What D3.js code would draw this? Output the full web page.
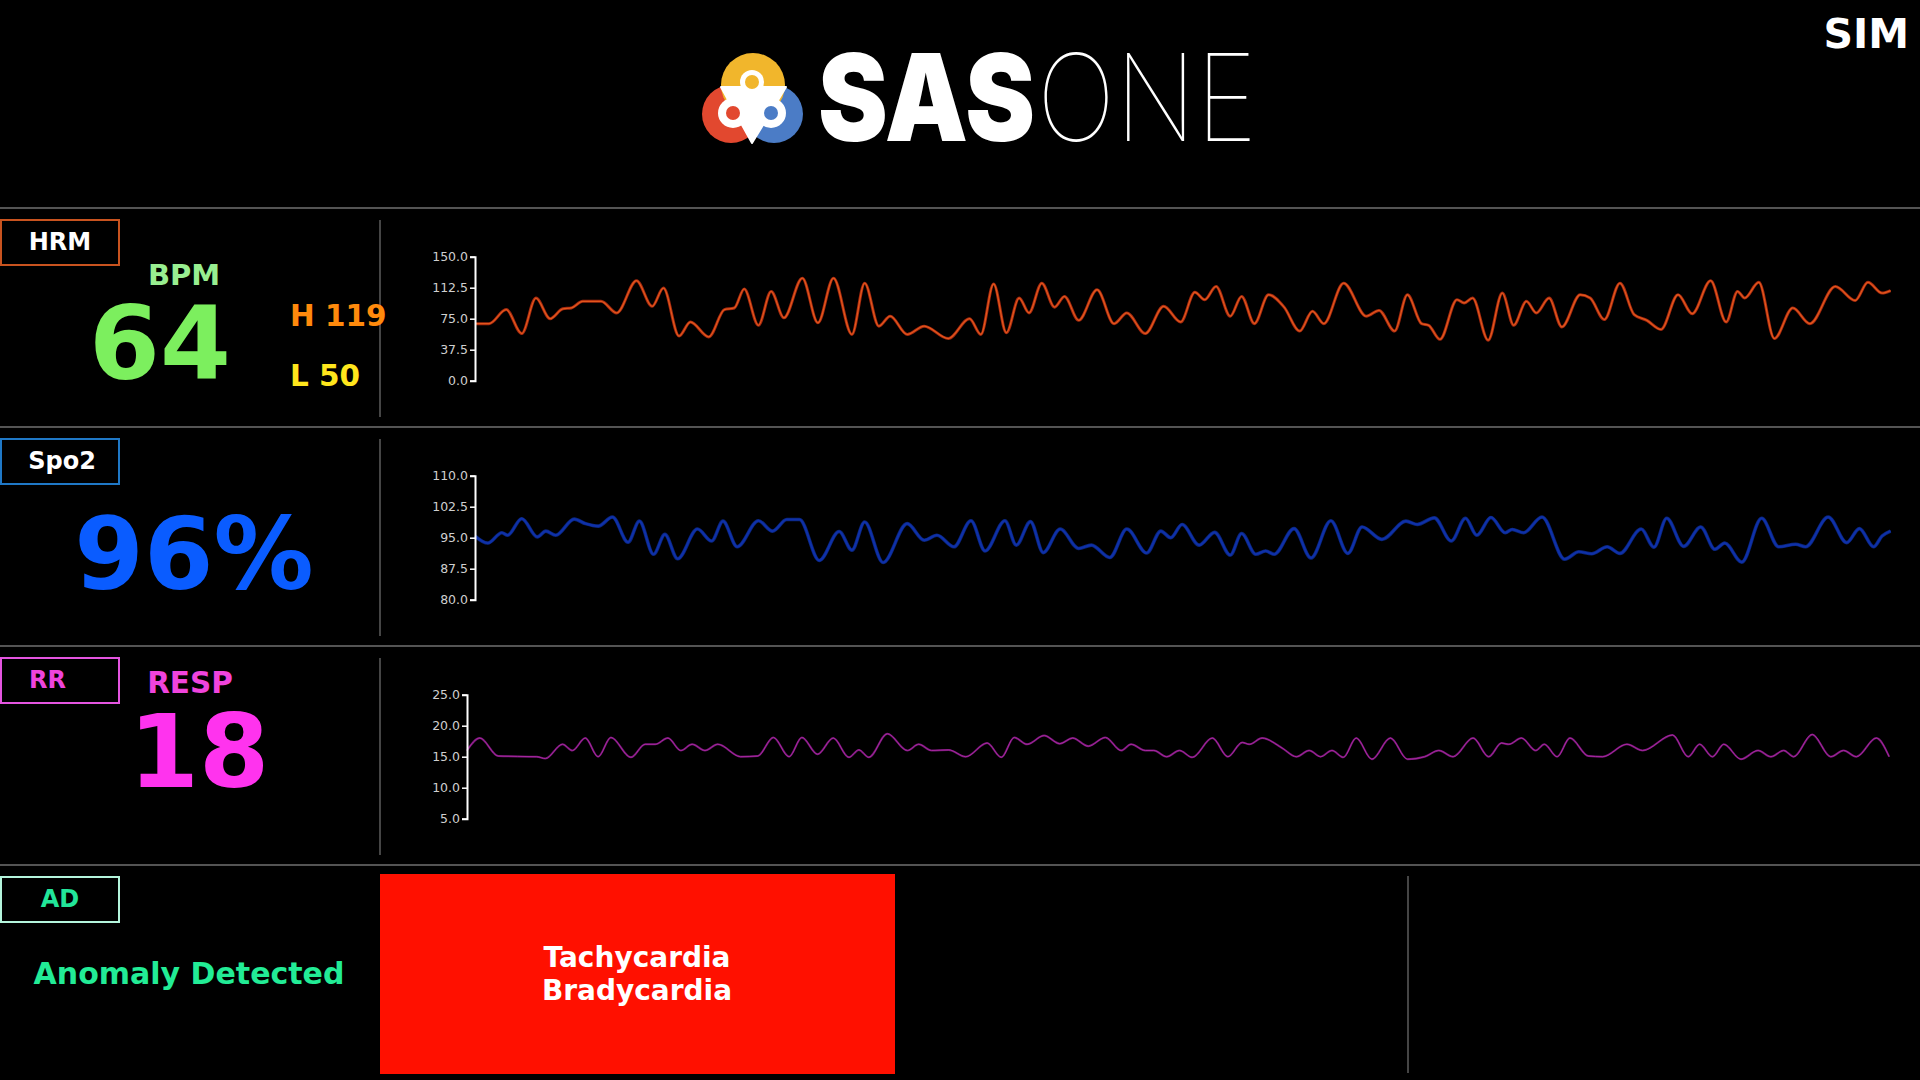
<!DOCTYPE html>
<html><head><meta charset="utf-8">
<script src="https://cdn.jsdelivr.net/npm/d3@7"></script>
<style>
html,body{margin:0;padding:0;background:#000;overflow:hidden;}
svg{display:block;}
</style></head><body>
<svg id="c" width="1920" height="1080"></svg>
<script>
// ---------------- DATA ----------------
const hrTime = [0,1.0,2.2,3.3,4.3,5.3,6.2,6.8,7.6,8.9,10.0,11.4,12.5,13.3,14.4,15.2,16.5,17.6,18.3,19.0,20.0,20.9,21.8,23.1,24.2,25.3,26.6,27.5,28.5,29.3,30.5,31.7,33.4,34.9,35.7,36.6,37.5,38.4,39.1,40.0,40.9,41.6,42.6,43.9,45.1,46.0,47.3,48.6,49.8,50.8,51.5,52.3,53.3,54.1,55.0,56.0,57.1,58.2,59.1,59.9,61.3,62.9,63.8,64.9,65.8,66.8,67.3,68.1,69.3,69.8,70.4,71.5,72.5,73.3,74.2,74.9,75.8,76.7,78.0,78.7,79.7,80.8,81.8,82.7,83.7,84.9,85.9,87.2,88.3,89.1,89.6,90.6,91.7,93.0,94.2,96.0,97.4,98.3,99.3,99.9];
const hrValues = [69,69,86,57,100,75,87,88,96,96,82,121,90,112,54,71,53,86,88,111,67,108,76,124,70,124,56,118,66,78,56,66,51,75,56,117,58,100,82,118,89,102,73,110,69,82,57,90,71,107,98,114,78,102,69,104,89,60,84,69,118,78,85,60,104,69,67,50,98,94,100,49,106,67,96,82,100,65,104,100,74,118,80,73,62,104,81,121,71,108,100,119,51,88,69,114,97,119,106,109];

const spo2Time = [0,0.9,1.9,2.3,3.3,4.4,5.0,5.7,7.0,7.8,8.7,9.7,10.8,11.6,12.6,13.4,14.3,15.7,16.7,17.5,18.5,20.0,21.0,22.0,22.9,24.3,25.7,26.6,27.5,28.8,30.5,31.7,32.6,33.8,35.0,36.0,37.4,38.2,39.2,40.1,41.3,42.6,43.5,44.8,46.0,47.4,48.4,49.1,49.9,51.1,52.2,53.3,54.1,55.1,55.8,56.4,57.8,59.0,60.4,61.6,62.6,64.0,65.7,66.5,67.7,68.9,69.9,70.7,71.7,72.7,73.2,74.0,75.3,76.9,77.9,78.8,79.9,80.8,82.3,83.2,84.1,85.3,86.5,87.5,88.2,89.4,90.8,92.0,93.2,93.9,95.5,96.8,97.7,98.7,99.3,99.9];
const spo2Values = [95.4,93.7,96.2,95.6,99.6,95.2,96.6,95.6,99.5,98.4,97.8,100.0,93.9,99.0,91.0,95.8,89.9,97.1,94.2,99.0,92.8,99.1,96.6,99.4,99.4,89.5,96.5,92.0,98.8,89.0,98.4,94.4,95.6,92.8,99.1,91.8,99.1,93.2,98.9,91.4,97.1,92.4,93.2,90.2,97.1,91.3,96.6,95.0,98.2,93.2,96.3,90.8,96.0,91.0,91.8,91.0,97.2,90.1,99.1,91.2,97.6,94.6,99.0,98.2,99.8,94.2,99.7,95.6,99.9,96.2,97.0,96.2,100.0,89.8,91.6,91.1,92.8,91.2,97.1,92.7,99.7,92.9,97.6,92.2,93.7,89.1,99.7,92.8,93.4,92.8,100.0,93.8,97.2,92.8,95.4,96.6];

const rrTime = [0,0.9,2.2,4.9,5.5,6.7,7.4,8.3,9.2,10.1,11.5,12.5,13.2,14.1,15.0,15.8,16.7,17.6,19.2,20.4,21.5,22.6,23.5,24.6,25.7,26.8,27.5,28.2,29.5,30.9,31.7,32.6,33.8,35.0,36.5,37.5,38.4,39.3,40.5,41.6,42.5,43.6,44.8,45.9,46.6,47.6,48.2,49.1,50.0,50.9,52.3,53.4,54.4,54.9,55.8,57.2,58.2,59.1,59.9,60.7,61.5,62.4,63.5,64.8,66.0,67.2,68.2,69.2,70.6,71.7,72.6,73.1,74.0,75.0,75.6,76.5,77.4,78.7,79.7,81.4,82.5,84.6,85.7,86.5,87.4,88.2,89.4,90.6,91.5,92.4,93.1,94.4,95.7,96.6,97.5,98.9,99.8];
const rrValues = [16.0,18.0,15.1,15.0,14.7,17.0,16.0,18.0,15.0,18.1,14.9,17.0,17.0,18.0,16.0,17.0,16.0,17.0,15.0,15.1,18.1,15.0,18.1,15.4,18.0,14.9,16.1,14.9,18.7,16.0,17.0,16.0,16.1,15.0,17.2,14.9,18.1,17.0,18.4,17.1,18.0,16.7,18.1,16.0,17.0,16.0,16.0,15.0,16.0,14.9,18.0,15.0,17.3,17.0,18.0,16.4,15.0,16.0,15.0,16.0,14.9,18.0,14.6,18.0,14.6,15.0,16.0,15.0,18.0,15.0,17.2,17.0,18.0,16.0,17.0,15.0,18.0,15.1,15.0,17.0,16.0,18.5,15.0,17.0,15.0,17.0,14.6,16.0,15.0,16.0,15.0,18.6,15.0,16.0,15.0,18.0,15.0];

const hrTicks = [0,37.5,75,112.5,150];
const spo2Ticks = [80,87.5,95,102.5,110];
const rrTicks = [5,10,15,20,25];

const rowLabels = ['HRM','Spo2','RR','AD'];
const hrCurrent = 64, hrHigh = 119, hrLow = 50;
const spo2Current = 96;
const rrCurrent = 18;
const anomalyLabel = 'Anomaly Detected';
const anomalies = ['Tachycardia','Bradycardia'];

// ---------------- DRAW ----------------
const W = 1920, H = 1080;
const svg = d3.select('#c');
svg.append('rect').attr('width', W).attr('height', H).attr('fill', '#000');
const FONT = 'DejaVu Sans, Verdana, sans-serif';

// header logo
const logo = svg.append('g');
logo.append('circle').attr('cx', 731).attr('cy', 114).attr('r', 29).attr('fill', '#e2482f');
logo.append('circle').attr('cx', 774).attr('cy', 114).attr('r', 29).attr('fill', '#4b7cc6');
logo.append('circle').attr('cx', 753).attr('cy', 85).attr('r', 32).attr('fill', '#f1b62c');
logo.append('path').attr('d', 'M721,87 L786,87 L752,143 Z').attr('fill', '#fff').attr('stroke','#fff').attr('stroke-width',2).attr('stroke-linejoin','round');
[[752,82,12,'#f1b62c'],[733,113,15,'#e2482f'],[771,113,15,'#4b7cc6']].forEach(([cx,cy,r,c]) => {
  logo.append('circle').attr('cx', cx).attr('cy', cy).attr('r', r).attr('fill', '#fff');
  logo.append('circle').attr('cx', cx).attr('cy', cy).attr('r', 7).attr('fill', c);
});
svg.append('text').attr('x', 818).attr('y', 141).attr('font-family', 'Inter, Roboto, sans-serif')
  .attr('font-weight', 900).attr('font-size', 121).attr('fill', '#fff')
  .attr('textLength', 217).attr('lengthAdjust', 'spacingAndGlyphs').text('SAS');
svg.append('text').attr('x', 1037).attr('y', 141).attr('font-family', 'Inter, Roboto, sans-serif')
  .attr('font-weight', 100).attr('font-size', 121).attr('fill', '#fff')
  .attr('textLength', 220).attr('lengthAdjust', 'spacingAndGlyphs').text('ONE');
svg.append('text').attr('x', 1909).attr('y', 48).attr('text-anchor', 'end').attr('font-family', FONT)
  .attr('font-weight', 'bold').attr('font-size', 41).attr('fill', '#fff').text('SIM');

// row structure
const rowTop = [208, 427, 646, 865];
rowTop.forEach(y => svg.append('line').attr('x1', 0).attr('x2', W).attr('y1', y).attr('y2', y)
  .attr('stroke', '#a8a8a8').attr('stroke-width', 1.2));

const boxStyle = [
  {stroke:'#c8531f', fill:'#ffffff', x:60, anchor:'middle'},
  {stroke:'#1f78c6', fill:'#ffffff', x:62, anchor:'middle'},
  {stroke:'#e455e0', fill:'#ee44dd', x:29, anchor:'start'},
  {stroke:'#b4f5dc', fill:'#22e69a', x:60, anchor:'middle'}
];
rowLabels.forEach((lab, i) => {
  const t = rowTop[i], s = boxStyle[i];
  svg.append('rect').attr('x', 1).attr('y', t + 12).attr('width', 118).attr('height', 45)
    .attr('fill', 'none').attr('stroke', s.stroke).attr('stroke-width', 2);
  svg.append('text').attr('x', s.x).attr('y', t + 42).attr('text-anchor', s.anchor)
    .attr('font-family', FONT).attr('font-weight', 'bold').attr('font-size', 24).attr('fill', s.fill).text(lab);
});
// vertical dividers
[0,1,2].forEach(i => svg.append('line').attr('x1', 380).attr('x2', 380)
  .attr('y1', rowTop[i] + 12).attr('y2', rowTop[i] + 209).attr('stroke', '#8a8a8a').attr('stroke-width', 1));
svg.append('line').attr('x1', 1408).attr('x2', 1408).attr('y1', rowTop[3] + 11).attr('y2', rowTop[3] + 208)
  .attr('stroke', '#8a8a8a').attr('stroke-width', 1);

function txt(x, y, s, size, fill, anchor) {
  return svg.append('text').attr('x', x).attr('y', y).attr('text-anchor', anchor || 'middle')
    .attr('font-family', FONT).attr('font-weight', 'bold').attr('font-size', size).attr('fill', fill).text(s);
}
// HRM panel
txt(184, 285, 'BPM', 29, '#98ee90');
txt(160, 379, String(hrCurrent), 102, '#7cef5e');
txt(290, 326, 'H ' + hrHigh, 29.5, '#ff8a0c', 'start');
txt(290, 386, 'L ' + hrLow, 29.5, '#ffe61c', 'start');
// Spo2 panel
txt(194, 589, spo2Current + '%', 100, '#0a5cff');
// RR panel
txt(190, 693, 'RESP', 29.5, '#f044dd');
txt(199, 787, String(rrCurrent), 101, '#ff33ee');
// AD panel
txt(189, 984, anomalyLabel, 30, '#22ec96');
svg.append('rect').attr('x', 380).attr('y', 874).attr('width', 515).attr('height', 200).attr('fill', '#ff1000');
anomalies.forEach((a, k) => txt(637, 967 + k * 33, a, 28, '#fff'));

// charts
function chart(i, times, values, domain, ticks, strokes) {
  const top = rowTop[i];
  const y = d3.scaleLinear().domain(domain).range([top + 172.7, top + 48.7]);
  const g = svg.append('g');
  const ax = g.append('g').call(d3.axisLeft(y).tickValues(ticks).tickFormat(d3.format('.1f'))
    .tickSizeInner(5).tickSizeOuter(5).tickPadding(2));
  ax.attr('font-family', FONT).attr('font-size', 12.5);
  ax.selectAll('text').attr('fill', '#cfcfcf');
  ax.selectAll('line').attr('stroke', '#fff').attr('stroke-width', 1.5);
  ax.select('.domain').attr('stroke', '#fff').attr('stroke-width', 2);
  const bb = ax.node().getBBox();
  const axisX = Math.round(432 - bb.x);
  ax.attr('transform', `translate(${axisX},0)`);
  const x = d3.scaleLinear().domain([0, 100]).range([axisX, 1892]);
  const line = d3.line().x(d => x(d[0])).y(d => y(d[1])).curve(d3.curveMonotoneX);
  const pts = d3.zip(times, values);
  const lg = g.insert('g', ':first-child');
  strokes.forEach(([c, w]) => lg.append('path').datum(pts).attr('d', line)
    .attr('fill', 'none').attr('stroke', c).attr('stroke-width', w).attr('stroke-linejoin', 'round'));
}
chart(0, hrTime, hrValues, [0, 150], hrTicks, [['#a3280f', 3], ['#e2561c', 1.3]]);
chart(1, spo2Time, spo2Values, [80, 110], spo2Ticks, [['#0a2478', 3.6], ['#0f31a8', 2.2]]);
chart(2, rrTime, rrValues, [5, 25], rrTicks, [['#6e1670', 2], ['#a8279f', 1]]);
</script>
</body></html>
